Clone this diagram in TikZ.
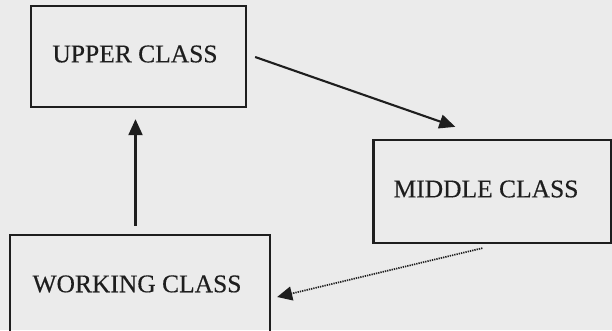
\documentclass[tikz,border=0pt]{standalone}
\usepackage{fontspec}
\setmainfont{Liberation Serif}
\newfontfamily\scanfont[FakeBold=0.35]{Liberation Serif}
\usetikzlibrary{arrows.meta,calc}
\definecolor{bg}{HTML}{EBEBEB}
\definecolor{ink}{HTML}{1E1E1E}
\tikzset{
  classbox/.style={draw=ink, line width=2.3pt, rectangle, inner sep=0pt},
  classtext/.style={text=ink, font=\scanfont\fontsize{25.5}{30}\selectfont},
  arr/.style={draw=ink, line width=2.1pt, -{Triangle[length=16pt,width=14pt]}},
  dotarr/.style={draw=ink, line width=1.7pt, dash pattern=on 1.3pt off 1pt, -{Triangle[length=15pt,width=14pt]}}
}
\begin{document}
\begin{tikzpicture}[x=1pt,y=-1pt]
\path[use as bounding box, fill=bg] (0,0) rectangle (612,330);
\clip (0,0) rectangle (612,330);
\node[classbox, minimum width=215pt, minimum height=101pt] (u) at (138.5,56.5) {};
\node[classtext] (ut) at (135,54) {UPPER CLASS};
\node[classbox, minimum width=238pt, minimum height=103pt] (m) at (492.5,191.5) {};
\node[classtext] (mt) at (486,189) {MIDDLE CLASS};
\node[classbox, minimum width=260pt, minimum height=120pt] (w) at (140,295) {};
\node[classtext] (wt) at (137,284) {WORKING CLASS};
\draw[arr] ($(w.north)+(-4.5,-8)$) -- ($(u.south)+(-3,11)$);
\draw[arr] ($(u.east)+(8,0.5)$) -- ($(m.north west)+(83,-12)$);
\draw[dotarr] ($(m.south west)+(110,4)$) -- ($(w.east)+(6,2)$);
\end{tikzpicture}
\end{document}
